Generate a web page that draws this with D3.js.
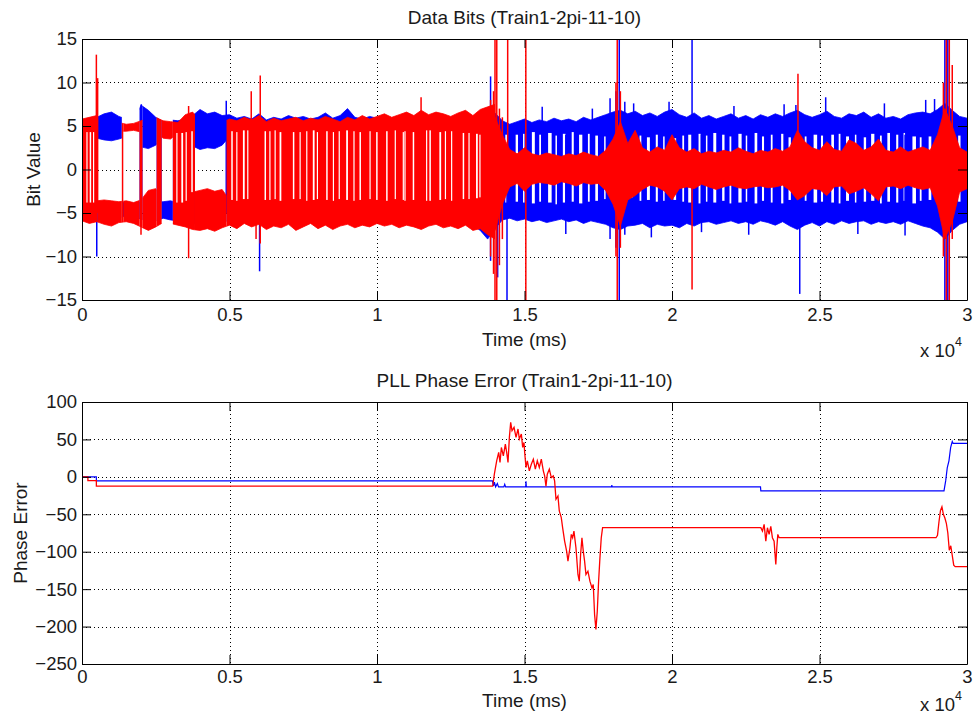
<!DOCTYPE html>
<html>
<head>
<meta charset="utf-8">
<script src="https://cdn.jsdelivr.net/npm/d3@7"></script>
<style>
  body { margin: 0; background: #fff; }
  text { font-family: Arial, "Liberation Sans", sans-serif; fill: #1a1a1a; }
</style>
</head>
<body>
<svg id="chart" width="974" height="722"></svg>
<script>
// ---------- data ----------
const xTicks = [0, 5000, 10000, 15000, 20000, 25000, 30000];
const bitTicks = [-15, -10, -5, 0, 5, 10, 15];
const phaseTicks = [-250, -200, -150, -100, -50, 0, 50, 100];

// blue bit trace, sampled every 250 ms : band edges
const blueTopMax = [
  5.6, 5.9, 6.0, 6.4, 6.6, 6.1, 5.8, 5.6, 7.4, 6.8,
  6.0, 5.5, 5.7, 5.6, 5.8, 6.2, 6.9, 6.4, 6.6, 6.2,
  6.3, 5.9, 6.1, 5.8, 6.4, 5.7, 6.0, 5.8, 6.2, 5.9,
  6.1, 5.8, 6.0, 6.5, 5.9, 6.2, 7.0, 6.0, 5.8, 6.1,
  5.9, 6.2, 5.8, 6.0, 6.3, 5.8, 6.1, 5.9, 6.2, 5.8,
  6.0, 6.3, 5.9, 6.1, 6.4, 7.0, 6.5, 5.6, 5.2, 5.5,
  5.8, 5.4, 5.7, 5.5, 5.9, 5.6, 5.8, 5.5, 6.0, 5.7,
  6.0, 6.3, 6.6, 6.8, 6.4, 6.7, 6.2, 6.5, 6.1, 6.6,
  6.9, 6.3, 6.0, 6.5, 5.9, 6.2, 5.8, 6.1, 6.4, 5.9,
  6.2, 5.8, 6.3, 6.0, 6.4, 6.1, 6.5, 6.8, 6.3, 6.0,
  6.3, 6.7, 6.1, 5.9, 6.4, 6.2, 6.6, 6.0, 6.4, 5.9,
  6.1, 5.8, 6.3, 6.5, 6.6, 6.4, 6.9, 7.6, 6.8, 6.1,
  5.9];
const blueTopMin = [
  4.2, 4.0, 3.6, 3.4, 3.3, 3.5, 3.8, 3.8, 2.6, 2.4,
  2.8, 3.8, 3.8, 3.6, 3.5, 2.7, 2.3, 2.5, 2.4, 2.8,
  3.8, 3.9, 3.7, 3.8, 3.9, 3.7, 3.8, 3.9, 3.8, 3.7,
  3.8, 3.9, 3.7, 3.8, 3.9, 3.8, 3.7, 3.8, 3.9, 3.8,
  3.7, 3.8, 3.9, 3.8, 3.7, 3.8, 3.9, 3.7, 3.8, 3.9,
  3.8, 3.7, 3.8, 3.9, 3.8, 3.0, 3.2, 4.0, 4.2, 4.0,
  4.1, 4.3, 4.0, 4.2, 3.9, 4.1, 4.3, 4.0, 4.2, 4.1,
  3.9, 3.8, 3.2, 3.0, 3.5, 3.6, 3.9, 3.7, 4.0, 3.8,
  3.6, 3.9, 4.0, 3.8, 4.1, 3.9, 4.2, 4.0, 3.8, 4.1,
  3.9, 4.2, 3.8, 4.0, 3.9, 4.1, 3.7, 3.5, 3.8, 4.0,
  3.9, 3.7, 4.0, 4.1, 3.8, 4.0, 3.7, 4.1, 3.9, 4.2,
  4.0, 4.2, 3.9, 3.8, 3.7, 3.8, 3.4, 3.0, 3.5, 3.9,
  4.0];
const blueBotMax = [
  -3.8, -3.6, -3.5, -3.4, -3.6, -3.7, -3.8, -3.9, -3.7, -3.6,
  -3.8, -3.7, -3.6, -3.8, -3.7, -3.6, -3.5, -3.7, -3.6, -3.8,
  -3.7, -3.6, -3.8, -3.7, -3.6, -3.7, -3.8, -3.6, -3.7, -3.8,
  -3.6, -3.7, -3.8, -3.7, -3.6, -3.8, -3.7, -3.6, -3.7, -3.8,
  -3.7, -3.6, -3.8, -3.7, -3.6, -3.7, -3.8, -3.7, -3.6, -3.7,
  -3.8, -3.7, -3.6, -3.5, -3.4, -3.0, -3.2, -3.8, -3.9, -3.7,
  -3.8, -3.9, -3.7, -3.8, -4.0, -3.8, -3.7, -3.9, -3.8, -3.7,
  -3.6, -3.4, -3.0, -2.8, -3.2, -3.4, -3.6, -3.5, -3.7, -3.6,
  -3.5, -3.7, -3.8, -3.6, -3.9, -3.7, -3.8, -3.6, -3.9, -3.8,
  -3.7, -3.9, -3.6, -3.8, -3.7, -3.9, -3.5, -3.3, -3.6, -3.8,
  -3.7, -3.6, -3.8, -3.9, -3.6, -3.8, -3.7, -3.6, -3.9, -3.7,
  -3.8, -3.6, -3.7, -3.9, -3.6, -3.5, -3.2, -2.8, -3.3, -3.7,
  -3.8];
const blueBotMin = [
  -5.8, -6.0, -5.9, -6.0, -5.9, -5.6, -5.3, -5.4, -5.7, -5.9,
  -5.9, -5.6, -5.8, -5.9, -6.0, -6.3, -6.0, -5.8, -6.1, -6.0,
  -5.9, -6.3, -6.0, -5.8, -6.2, -6.0, -5.7, -6.1, -5.9, -6.0,
  -6.2, -5.8, -6.0, -5.9, -6.1, -5.8, -6.0, -6.3, -5.9, -6.1,
  -6.0, -5.8, -6.1, -5.9, -6.2, -6.0, -5.8, -6.1, -5.9, -6.0,
  -6.1, -5.9, -6.2, -6.4, -7.0, -8.0, -6.8, -5.8, -5.6, -5.9,
  -5.7, -6.0, -5.8, -6.1, -5.9, -5.7, -6.0, -5.8, -6.2, -5.9,
  -6.1, -6.3, -6.7, -6.9, -6.5, -6.4, -6.2, -6.7, -6.3, -6.5,
  -6.4, -6.7, -6.2, -6.5, -6.1, -6.0, -6.3, -6.1, -5.9, -6.2,
  -6.0, -6.3, -5.9, -6.1, -6.4, -6.0, -6.5, -6.9, -6.4, -6.1,
  -6.5, -6.0, -6.3, -5.9, -6.2, -6.0, -5.9, -6.3, -6.0, -6.2,
  -6.0, -6.3, -5.9, -6.2, -6.5, -6.7, -7.2, -8.0, -7.0, -6.3,
  -6.0];

// red bit trace, 0 - 14000 ms, sampled every 250 ms
const redTopMax = [
  5.8, 6.0, 6.2, 5.6, 5.5, 5.4, 5.2, 5.3, 5.6, 5.9,
  6.0, 5.6, 5.5, 5.4, 6.3, 6.6, 5.6, 5.5, 5.8, 5.4,
  5.8, 5.6, 6.0, 5.7, 6.2, 5.5, 5.9, 5.6, 5.8, 6.0,
  5.6, 5.9, 5.7, 6.1, 5.8, 5.5, 6.0, 5.7, 6.2, 5.8,
  6.1, 6.4, 6.0, 6.3, 6.6, 6.2, 6.8, 6.3, 6.6, 6.4,
  6.1, 6.5, 6.8, 6.2, 6.9, 7.2, 7.5];
const redTopMin = [
  4.4, 4.3, 4.2, 4.4, 4.3, 4.4, 4.4, 4.5, 4.3, 4.2,
  4.3, 3.6, 3.5, 4.2, 4.3, 4.4, 4.3, 4.2, 4.4, 4.3,
  4.4, 4.3, 4.5, 4.4, 4.3, 4.4, 4.5, 4.3, 4.4, 4.3,
  4.4, 4.5, 4.3, 4.4, 4.3, 4.4, 4.5, 4.4, 4.3, 4.4,
  4.3, 4.4, 4.5, 4.3, 4.4, 4.3, 4.4, 4.5, 4.3, 4.4,
  4.4, 4.3, 4.2, 4.1, 4.0, 3.8, 3.5];
const redBotMax = [
  -3.9, -3.8, -3.6, -3.5, -3.6, -3.7, -3.6, -3.8, -3.5, -2.4,
  -2.2, -3.6, -3.7, -3.8, -3.6, -2.6, -2.4, -2.2, -2.5, -2.3,
  -3.5, -3.6, -3.4, -3.5, -3.6, -3.5, -3.4, -3.6, -3.5, -3.4,
  -3.6, -3.5, -3.4, -3.5, -3.6, -3.4, -3.5, -3.6, -3.5, -3.4,
  -3.5, -3.6, -3.4, -3.5, -3.6, -3.5, -3.4, -3.6, -3.5, -3.4,
  -3.6, -3.5, -3.4, -3.3, -3.2, -3.0, -2.8];
const redBotMin = [
  -5.9, -6.2, -6.0, -6.3, -6.5, -6.1, -6.0, -6.2, -6.6, -7.0,
  -6.6, -6.1, -6.2, -6.4, -6.6, -6.9, -7.0, -6.8, -7.1, -6.7,
  -6.4, -6.8, -6.2, -6.6, -6.3, -6.9, -6.5, -6.7, -6.3, -7.0,
  -6.6, -6.2, -6.8, -6.4, -6.9, -6.5, -6.3, -6.7, -6.4, -6.6,
  -6.2, -6.5, -6.3, -6.7, -6.4, -6.6, -6.9, -6.5, -6.3, -6.7,
  -6.5, -6.8, -6.4, -7.0, -6.8, -7.5, -8.0];
// red trace after lock loss, 14000 - 30000 ms, centred on zero
const redMidHi = [
  6.0, 4.0, 2.3, 1.8, 2.5, 1.8, 1.6, 1.9, 1.7, 1.5,
  1.8, 1.6, 2.0, 1.7, 1.5, 2.2, 3.5, 5.5, 3.0, 4.5,
  2.5, 2.0, 2.6, 2.2, 4.0, 2.5, 2.0, 2.4, 1.8, 2.1,
  1.9, 2.2, 2.0, 2.5, 2.1, 1.8, 2.2, 2.0, 2.4, 2.1,
  2.6, 4.5, 3.2, 2.5, 2.2, 3.2, 2.3, 2.1, 3.4, 3.0,
  2.2, 2.6, 3.5, 2.2, 2.0, 2.6, 2.0, 2.3, 2.6, 2.2,
  4.0, 7.0, 5.0, 2.5, 2.0];
const redMidLo = [
  -7.0, -4.0, -2.0, -1.6, -2.5, -1.7, -1.5, -1.6, -1.8, -1.4,
  -1.6, -1.9, -1.5, -1.7, -1.6, -2.4, -4.0, -6.5, -3.5, -3.0,
  -2.3, -1.8, -2.0, -2.5, -3.5, -2.2, -2.0, -2.2, -1.7, -2.0,
  -2.3, -2.0, -1.8, -2.1, -2.2, -2.0, -1.9, -2.1, -2.0, -1.8,
  -2.4, -3.5, -3.0, -2.2, -2.3, -3.0, -2.0, -1.9, -2.8, -2.5,
  -2.1, -2.8, -3.6, -2.0, -1.9, -2.2, -1.8, -2.1, -2.3, -2.1,
  -4.2, -8.0, -6.0, -2.6, -2.2];

// which level(s) each trace sits on: sw = toggling, hi / lo = one level, both = two separate levels
const blueStates = [
  [0, 530, "sw"], [530, 1350, "hi"], [1350, 1950, "lo"], [1950, 2050, "sw"],
  [2050, 2530, "hi"], [2530, 2700, "sw"], [2700, 3080, "lo"], [3080, 3830, "sw"],
  [3830, 4900, "hi"], [4900, 30000, "sw"]];
const redStates = [
  [0, 530, "sw"], [530, 1350, "lo"], [1350, 1400, "sw"], [1400, 1950, "both"],
  [1950, 2050, "sw"], [2050, 2530, "lo"], [2530, 2700, "sw"], [2700, 3080, "hi"],
  [3080, 3830, "sw"], [3830, 4900, "lo"], [4900, 14000, "sw"]];

// [time, width] of white gaps while toggling
const redGaps = [
  [149, 40], [261, 50], [373, 40],
  [3197, 40], [3367, 60], [3512, 40], [3705, 50],
  [5060, 50], [5229, 40], [5455, 60], [5600, 40], [6188, 50], [6350, 40], [6527, 40],
  [6697, 60], [7148, 50], [7374, 40], [7600, 40], [7824, 60], [7960, 40], [8278, 50],
  [8503, 40], [8700, 40], [8955, 60], [9200, 40], [9406, 50], [9745, 40], [9971, 50],
  [10310, 50], [10600, 40], [10872, 40], [10929, 40], [11211, 50], [11663, 40],
  [11776, 50], [12114, 60], [12300, 40], [12510, 40], [12905, 50], [13100, 40],
  [13357, 60], [13470, 40]];
const blueGaps = [
  [14350, 60], [14700, 80], [14950, 50], [15250, 100], [15500, 60], [15800, 120],
  [16050, 50], [16300, 90], [16600, 70], [16850, 110], [17150, 60], [17400, 90],
  [17700, 50], [18600, 80], [18900, 60], [19150, 100], [19450, 70], [19700, 50],
  [20050, 90], [20350, 60], [20550, 120], [20900, 70], [21150, 50], [21400, 100],
  [21700, 80], [21950, 60], [22250, 110], [22500, 50], [22800, 90], [23050, 70],
  [23350, 60], [23700, 100], [23950, 80], [24500, 60], [24800, 120], [25050, 70],
  [25400, 90], [25650, 60], [25900, 100], [26200, 50], [26500, 80], [26750, 110],
  [27050, 60], [27300, 90], [27600, 70], [27850, 50], [28150, 120], [28400, 60],
  [28700, 90], [28950, 70], [29700, 80]];

// isolated spikes [time, min, max]
const blueSpikes = [
  [500, -10, 5], [2010, -5, 7.5], [4890, -5, 7.9], [6020, -11.7, 5],
  [13850, -10.5, 10.7], [14090, -12.4, 5], [14407, -15, -1.2], [15600, -4, 7.2],
  [16400, -7.4, 4], [17300, -4, 7], [17900, -8, 8.2], [18212, -15, 15], [18100, -9, 9],
  [18400, -7.5, 7.8], [18700, -4, 7.6], [19300, -7.8, 4], [19900, -4, 7.8],
  [20680, -4, 15], [21000, -7.2, 4], [22100, -4, 7.3], [22600, -7.5, 4], [23800, -4, 7.5],
  [24330, -14.3, 4], [24200, -4, 7.4], [25210, -4, 8.3], [26300, -7.4, 4], [27200, -4, 7.6],
  [27900, -7.6, 4], [28600, -4, 8], [28900, -4, 8.1], [29250, -15, 15], [29350, -15, 15]];
const redSpikes = [
  [487, -6, 13.2], [530, -5, 10.5], [2000, -7.5, 5], [3614, -10.2, 7.3],
  [5737, -5, 9], [5900, -8, 5], [6042, -8.5, 10.8], [11494, -5, 8.3],
  [13850, -10, 8], [13950, -12, 9], [14000, -15, 15], [14060, -15, 15],
  [14150, -11, 7], [14250, -8, 6], [14430, 1, 15], [15045, -15, 15],
  [18144, -15, 15], [18100, -10, 10], [18250, -9, 9], [20680, -13.8, 2],
  [24270, -3, 11], [29200, -10, 10], [29300, -15, 15], [29400, -15, 15], [29500, -8, 12]];

// PLL phase error traces [time, value]
const bluePhase = [
  [0, 0], [487, 0], [487, -5.4], [13910, -5.4], [13950, -12], [13980, -7], [14020, -13.4],
  [14080, -9], [14120, -13.4], [14300, -13.4], [14330, -10], [14360, -13.4], [15040, -13.4],
  [15051, -6], [15062, -13.4], [17950, -13.4], [17960, -11], [17970, -13.4], [23000, -13.4],
  [23011, -18.8], [29220, -18.8], [29277, -5.4], [29332, 12.5], [29388, 21.4], [29445, 39],
  [29500, 47.3], [29530, 44.6], [30000, 44.6]];
const redPhase = [
  [0, 0], [200, 0], [200, -5], [487, -5], [487, -12.5], [13922, -12.5],
  [13978, 3.6], [14057, 21.4], [14125, 32.6], [14170, 19.2], [14216, 39.3], [14283, 28.1],
  [14351, 43.8], [14396, 32.6], [14441, 19.2], [14487, 52.7], [14532, 72.8], [14577, 61.6],
  [14645, 66.1], [14713, 52.7], [14780, 63.9], [14825, 50.5], [14893, 57.2], [14938, 39.3],
  [14983, 46.0], [15006, 32.6], [15051, 12.5], [15096, 21.4], [15164, 8.0], [15231, 16.9],
  [15299, 23.6], [15367, 10.3], [15434, 21.4], [15502, 12.5], [15570, 23.6], [15638, 8.0],
  [15683, 1.3], [15728, -12.5], [15773, 3.6], [15841, 10.3], [15909, -0.9], [15976, 1.3],
  [16021, -5.4], [16067, -29.9], [16134, -25.5], [16179, -45.6], [16247, -54.5],
  [16292, -67.9], [16360, -85.8], [16428, -99.2], [16473, -112.6], [16540, -94.7],
  [16586, -76.9], [16631, -81.3], [16676, -72.4], [16744, -94.7], [16812, -130.4],
  [16857, -139.4], [16902, -103.7], [16947, -81.3], [16992, -99.2], [17037, -112.6],
  [17083, -130.4], [17150, -126], [17218, -139.4], [17286, -148.3], [17331, -143.8],
  [17376, -184], [17421, -204], [17467, -179.5], [17512, -139.4], [17557, -108.2],
  [17602, -81.3], [17647, -67.9], [23011, -67.9], [23066, -72.4], [23123, -63.5],
  [23180, -85.8], [23235, -68], [23292, -76.9], [23349, -66], [23404, -81.3],
  [23461, -85.8], [23519, -117], [23553, -94.7], [23587, -76.9], [23631, -81.3],
  [28950, -81.3], [29000, -78], [29050, -60], [29100, -45], [29150, -40], [29200, -50],
  [29250, -55], [29300, -62], [29350, -75], [29400, -98], [29450, -92], [29500, -105],
  [29550, -118], [29600, -120], [30000, -120]];

// ---------- setup ----------
const svg = d3.select("#chart");
const BLUE = "#0000ff", RED = "#ff0000";
const STEP = 250;
const blueTimes = d3.range(0, 30001, STEP);
const redTimes = d3.range(0, 14001, STEP);
const redMidTimes = d3.range(14000, 30001, STEP);

const left = 82, right = 967;
const panels = [
  {top: 39, bottom: 300, timeY: 346, expY: 357, pad: 8},
  {top: 402, bottom: 664, timeY: 707, expY: 711, pad: 6}
];
const TICK_FONT = 18.5, LABEL_FONT = 19;

const x = d3.scaleLinear().domain([0, 30000]).range([left, right]);
const yBits = d3.scaleLinear().domain([-15, 15]).range([panels[0].bottom, panels[0].top]);
const yPhase = d3.scaleLinear().domain([-250, 100]).range([panels[1].bottom, panels[1].top]);

const defs = svg.append("defs");
panels.forEach((p, i) => {
  defs.append("clipPath").attr("id", "clip" + i)
    .append("rect").attr("x", left).attr("y", p.top)
    .attr("width", right - left).attr("height", p.bottom - p.top);
});

// ---------- grids ----------
function drawGrid(y, ticks, p) {
  const g = svg.append("g").attr("class", "grid")
    .attr("stroke", "#000").attr("stroke-width", 1).attr("stroke-dasharray", "1,3");
  g.selectAll(".vg").data(xTicks.slice(1, -1)).enter().append("line")
    .attr("x1", d => Math.round(x(d)) + 0.5).attr("x2", d => Math.round(x(d)) + 0.5)
    .attr("y1", p.top).attr("y2", p.bottom);
  g.selectAll(".hg").data(ticks.slice(1, -1)).enter().append("line")
    .attr("y1", d => Math.round(y(d)) + 0.5).attr("y2", d => Math.round(y(d)) + 0.5)
    .attr("x1", left).attr("x2", right);
}
drawGrid(yBits, bitTicks, panels[0]);
drawGrid(yPhase, phaseTicks, panels[1]);

// ---------- top panel: bit traces ----------
const plot1 = svg.append("g").attr("clip-path", "url(#clip0)");

function drawTrace(times, topMax, topMin, botMax, botMin, states, color, name) {
  const rows = times.map((t, i) => ({t, topMax: topMax[i], topMin: topMin[i], botMax: botMax[i], botMin: botMin[i]}));
  const areaFull = d3.area().x(d => x(d.t)).y0(d => yBits(d.botMin)).y1(d => yBits(d.topMax));
  const areaHi = d3.area().x(d => x(d.t)).y0(d => yBits(d.topMin)).y1(d => yBits(d.topMax));
  const areaLo = d3.area().x(d => x(d.t)).y0(d => yBits(d.botMin)).y1(d => yBits(d.botMax));
  states.forEach((s, k) => {
    const id = "st-" + name + "-" + k;
    defs.append("clipPath").attr("id", id).append("rect")
      .attr("x", x(s[0])).attr("width", x(s[1]) - x(s[0]))
      .attr("y", panels[0].top).attr("height", panels[0].bottom - panels[0].top);
    const g = plot1.append("g").attr("clip-path", `url(#${id})`);
    const shapes = s[2] === "sw" ? [areaFull] : s[2] === "hi" ? [areaHi] : s[2] === "lo" ? [areaLo] : [areaHi, areaLo];
    shapes.forEach(a => {
      g.append("path").attr("d", a(rows)).attr("fill", color)
        .attr("stroke", color).attr("stroke-width", 0.8);
    });
  });
  return rows;
}

function drawGaps(gaps, rows, t0) {
  plot1.selectAll(null).data(gaps).enter().append("rect")
    .attr("x", d => x(d[0]))
    .attr("width", d => x(d[1]) - x(0))
    .attr("y", d => yBits(rows[Math.round((d[0] - t0) / STEP)].topMin))
    .attr("height", d => {
      const r = rows[Math.round((d[0] - t0) / STEP)];
      return yBits(r.botMax) - yBits(r.topMin);
    })
    .attr("fill", "#fff");
}

function drawSpikes(spikes, color) {
  plot1.selectAll(null).data(spikes).enter().append("line")
    .attr("x1", d => x(d[0])).attr("x2", d => x(d[0]))
    .attr("y1", d => yBits(d[1])).attr("y2", d => yBits(d[2]))
    .attr("stroke", color).attr("stroke-width", 1.5);
}

const blueRows = drawTrace(blueTimes, blueTopMax, blueTopMin, blueBotMax, blueBotMin, blueStates, BLUE, "b");
drawGaps(blueGaps, blueRows, 0);
drawSpikes(blueSpikes, BLUE);

const redRows = drawTrace(redTimes, redTopMax, redTopMin, redBotMax, redBotMin, redStates, RED, "r");
drawGaps(redGaps, redRows, 0);

const midRows = redMidTimes.map((t, i) => ({t, hi: redMidHi[i], lo: redMidLo[i]}));
plot1.append("path")
  .attr("d", d3.area().x(d => x(d.t)).y0(d => yBits(d.lo)).y1(d => yBits(d.hi))(midRows))
  .attr("fill", RED).attr("stroke", RED).attr("stroke-width", 0.8);
drawSpikes(redSpikes, RED);

// ---------- bottom panel: phase error ----------
const plot2 = svg.append("g").attr("clip-path", "url(#clip1)");
const phaseLine = d3.line().x(d => x(d[0])).y(d => yPhase(d[1]));
plot2.append("path").attr("d", phaseLine(bluePhase))
  .attr("fill", "none").attr("stroke", BLUE).attr("stroke-width", 1.2);
plot2.append("path").attr("d", phaseLine(redPhase))
  .attr("fill", "none").attr("stroke", RED).attr("stroke-width", 1.3);

// ---------- axes (MATLAB style box, ticks inside) ----------
const fmtX = d => d3.format("~g")(d / 10000);
function drawAxes(y, ticks, p, title, ylabel, ylabelX) {
  const g = svg.append("g");
  g.append("g").attr("transform", `translate(0,${p.bottom})`)
    .call(d3.axisBottom(x).tickValues(xTicks).tickSize(-9).tickSizeOuter(0).tickPadding(p.pad).tickFormat(fmtX));
  g.append("g").attr("transform", `translate(0,${p.top})`)
    .call(d3.axisTop(x).tickValues(xTicks).tickSize(-9).tickSizeOuter(0).tickFormat(""));
  g.append("g").attr("transform", `translate(${left},0)`)
    .call(d3.axisLeft(y).tickValues(ticks).tickSize(-9).tickSizeOuter(0).tickPadding(5).tickFormat(d3.format("d")));
  g.append("g").attr("transform", `translate(${right},0)`)
    .call(d3.axisRight(y).tickValues(ticks).tickSize(-9).tickSizeOuter(0).tickFormat(""));
  g.selectAll(".domain").attr("stroke", "#000");
  g.selectAll(".tick line").attr("stroke", "#000");
  g.selectAll("text").attr("font-size", TICK_FONT).attr("fill", "#1a1a1a")
    .style("font-family", "Arial, 'Liberation Sans', sans-serif");

  svg.append("text").attr("x", (left + right) / 2).attr("y", p.top - 15)
    .attr("text-anchor", "middle").attr("font-size", LABEL_FONT).text(title);
  svg.append("text").attr("x", (left + right) / 2).attr("y", p.timeY)
    .attr("text-anchor", "middle").attr("font-size", LABEL_FONT).text("Time (ms)");
  svg.append("text")
    .attr("transform", `translate(${ylabelX},${(p.top + p.bottom) / 2}) rotate(-90)`)
    .attr("text-anchor", "middle").attr("font-size", LABEL_FONT).text(ylabel);
  const ex = svg.append("text").attr("x", 962).attr("y", p.expY)
    .attr("text-anchor", "end").attr("font-size", TICK_FONT);
  ex.append("tspan").text("x 10");
  ex.append("tspan").attr("dy", -11).attr("font-size", 12.5).text("4");
}
drawAxes(yBits, bitTicks, panels[0], "Data Bits (Train1-2pi-11-10)", "Bit Value", 40);
drawAxes(yPhase, phaseTicks, panels[1], "PLL Phase Error (Train1-2pi-11-10)", "Phase Error", 27);
</script>
</body>
</html>
